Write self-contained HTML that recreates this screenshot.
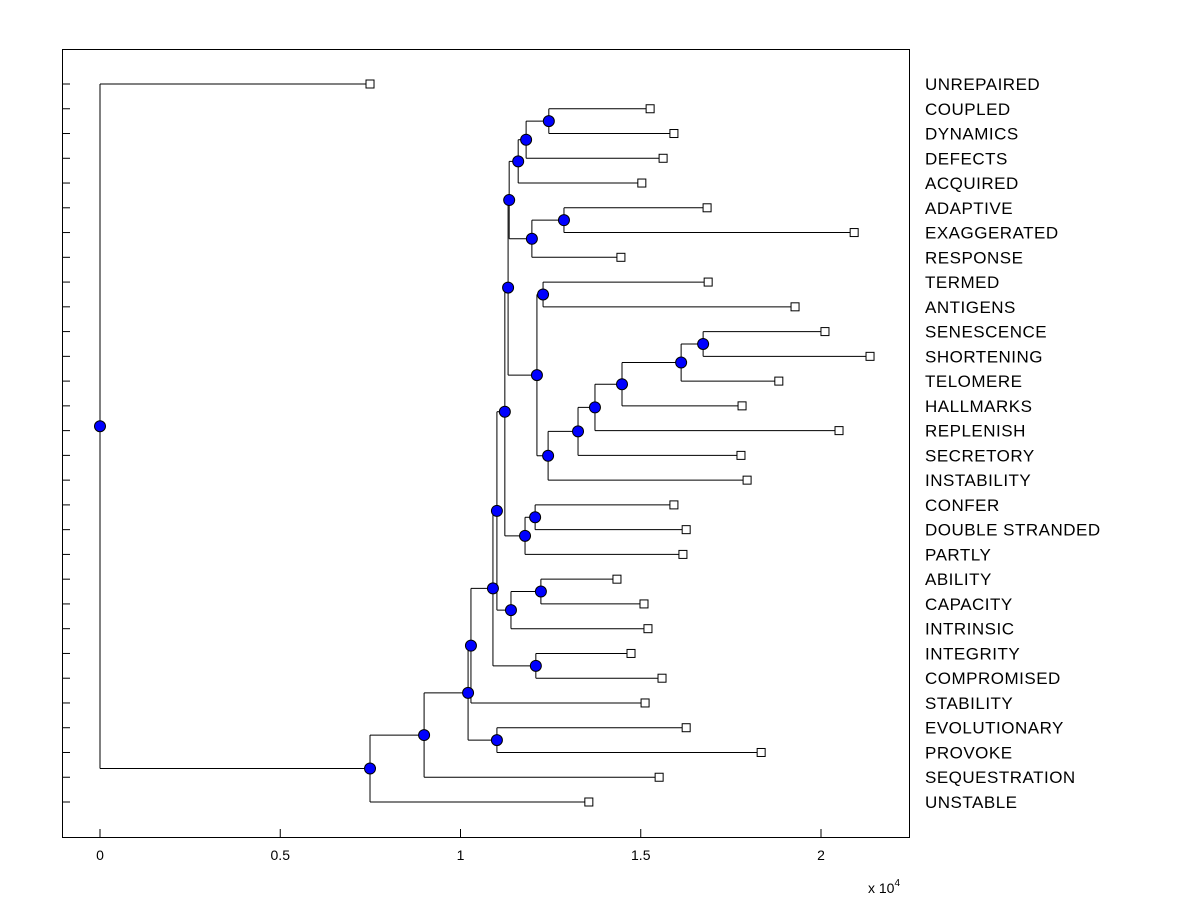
<!DOCTYPE html>
<html><head><meta charset="utf-8"><style>
body{margin:0;background:#fff;font-family:"Liberation Sans",Arial,sans-serif}
svg text{font-family:"Liberation Sans",Arial,sans-serif}
</style></head><body>
<svg id="chart" width="1200" height="900" xmlns="http://www.w3.org/2000/svg">
<rect x="0" y="0" width="1200" height="900" fill="#fff"/>
<rect x="62.5" y="49.5" width="847" height="788" fill="#fff" stroke="#000" stroke-width="1"/>
<g id="links"></g><g id="marks"></g><g id="labels"></g><g id="axis"></g>
</svg>
<script>
const leafLabels=["UNREPAIRED","COUPLED","DYNAMICS","DEFECTS","ACQUIRED","ADAPTIVE","EXAGGERATED","RESPONSE","TERMED","ANTIGENS","SENESCENCE","SHORTENING","TELOMERE","HALLMARKS","REPLENISH","SECRETORY","INSTABILITY","CONFER","DOUBLE STRANDED","PARTLY","ABILITY","CAPACITY","INTRINSIC","INTEGRITY","COMPROMISED","STABILITY","EVOLUTIONARY","PROVOKE","SEQUESTRATION","UNSTABLE"];
const leafHeights=[0.749,1.526,1.592,1.562,1.503,1.684,2.092,1.445,1.687,1.928,2.011,2.136,1.883,1.781,2.050,1.778,1.795,1.592,1.626,1.617,1.434,1.509,1.520,1.473,1.559,1.512,1.626,1.834,1.551,1.356];
const mergeLeft=[1,30,31,5,33,32,8,10,37,38,39,40,41,36,35,17,45,44,20,48,47,23,50,52,26,53,55,56,0];
const mergeRight=[2,3,4,6,7,34,9,11,12,13,14,15,16,42,43,18,19,46,21,22,49,24,51,25,27,54,28,29,57];
const mergeHeights=[1.245,1.182,1.160,1.287,1.198,1.135,1.229,1.673,1.612,1.448,1.373,1.326,1.243,1.212,1.132,1.207,1.179,1.123,1.223,1.140,1.101,1.209,1.090,1.029,1.101,1.021,0.899,0.749,0];
const xTicks=[0,0.5,1,1.5,2];
const xTickLabels=["0","0.5","1","1.5","2"];

const NS="http://www.w3.org/2000/svg";
const X=v=>100+v*360.5;
const rowTop=84,rowStep=(802-84)/29;
const Y=i=>rowTop+i*rowStep;
function mk(tag,attrs,parent){const e=document.createElementNS(NS,tag);for(const k in attrs)e.setAttribute(k,attrs[k]);document.getElementById(parent).appendChild(e);return e;}
const n=leafLabels.length;
const px=[],py=[];
for(let i=0;i<n;i++){px[i]=X(leafHeights[i]);py[i]=Y(i);}
for(let m=0;m<mergeHeights.length;m++){
  const id=n+m,a=mergeLeft[m],b=mergeRight[m],x=X(mergeHeights[m]);
  px[id]=x;py[id]=(py[a]+py[b])/2;
  const v=mk('line',{x1:x,x2:x,y1:py[a],y2:py[b],stroke:'#000','stroke-width':1},'links');
  
  
  [a,b].forEach(c=>{
    const h=mk('line',{x1:x,x2:px[c],y1:py[c],y2:py[c],stroke:'#000','stroke-width':1},'links');
    
    
  });
}
for(let m=0;m<mergeHeights.length;m++){
  const id=n+m;
  const c=mk('circle',{cx:px[id],cy:py[id],r:5.5,fill:'#0000ff',stroke:'#000','stroke-width':1},'marks');
  
  
}
for(let i=0;i<n;i++){
  const s=mk('rect',{x:px[i]-4,y:py[i]-4,width:8,height:8,fill:'#fff',stroke:'#000','stroke-width':1},'marks');
  
  
  const t=mk('text',{x:925,y:py[i]+6,'font-size':17,'letter-spacing':0.5,fill:'#000'},'labels');
  t.textContent=leafLabels[i];
  
  
  const tk=mk('line',{x1:62,x2:70,y1:py[i],y2:py[i],stroke:'#000','stroke-width':1},'axis');
  
  
}
xTicks.forEach((v,i)=>{
  const tk=mk('line',{x1:X(v),x2:X(v),y1:837,y2:829,stroke:'#000','stroke-width':1},'axis');
  
  
  const t=mk('text',{x:X(v),y:860,'font-size':14,'text-anchor':'middle',fill:'#000'},'axis');
  t.textContent=xTickLabels[i];
  
  
});
const ex=mk('text',{x:868,y:893,'font-size':14,fill:'#000'},'axis');
ex.innerHTML='x 10<tspan dy="-7" font-size="10">4</tspan>';


</script>
</body></html>
